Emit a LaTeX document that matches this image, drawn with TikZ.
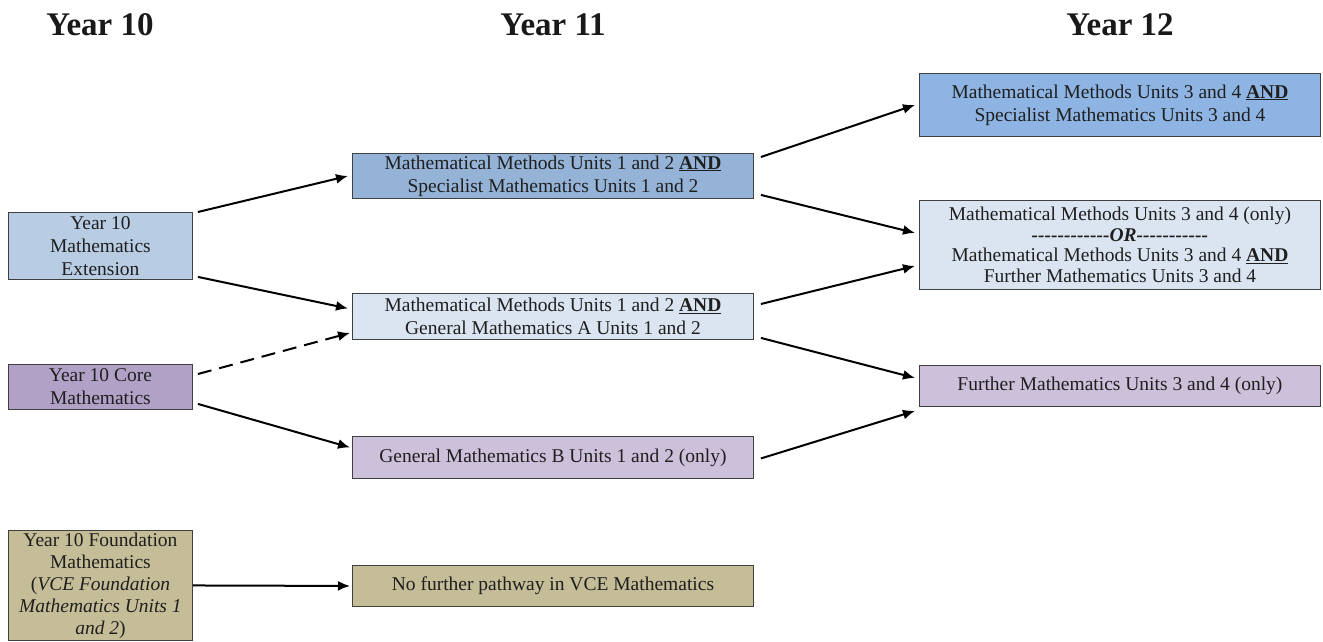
\documentclass[tikz,border=0pt]{standalone}
\usepackage{fontspec}
\setmainfont[Ligatures=TeXOff]{Liberation Serif}
\usetikzlibrary{arrows.meta}

\definecolor{extblue}{HTML}{B8CCE4}
\definecolor{coreviolet}{HTML}{B2A1C7}
\definecolor{foundkhaki}{HTML}{C4BD97}
\definecolor{midblue}{HTML}{95B3D7}
\definecolor{paleblue}{HTML}{DBE5F1}
\definecolor{palelilac}{HTML}{CCC0DA}
\definecolor{deepblue}{HTML}{8DB4E2}

\begin{document}
\begin{tikzpicture}[
    x=1pt, y=-1pt,
    heading/.style={font=\fontsize{33}{38}\selectfont\bfseries, text=black!90},
    course/.style={rectangle, draw=black!75, line width=0.9pt, anchor=north west, align=center,
      inner sep=0pt, text=black!88, font=\fontsize{19.5}{23}\selectfont},
    path/.style={line width=2pt, -{Latex[length=12pt,width=10pt]}},
    maybe/.style={path, dash pattern=on 14pt off 8pt}
  ]
    \useasboundingbox (0,0) rectangle (1323,641);

    % Headings
    \node[heading] (h10) at (100,25) {Year 10};
    \node[heading] (h11) at (553,25) {Year 11};
    \node[heading] (h12) at (1120,25) {Year 12};

    % Year 10
    \node[course, fill=extblue, minimum width=184pt, minimum height=67pt] (ext) at (8,212)
      {Year 10\\Mathematics\\Extension};
    \node[course, fill=coreviolet, minimum width=184pt, minimum height=45pt] (core) at (8,364)
      {Year 10 Core\\Mathematics};
    \node[course, fill=foundkhaki, minimum width=184pt, minimum height=110pt,
      font=\fontsize{19.5}{22}\selectfont] (found) at (8,530)
      {Year 10 Foundation\\Mathematics\\(\textit{VCE Foundation}\\\textit{Mathematics Units 1}\\\textit{and 2})};

    % Year 11
    \node[course, fill=midblue, minimum width=401pt, minimum height=45pt] (mmsm) at (352,153)
      {Mathematical Methods Units 1 and 2 \textbf{\underline{AND}}\\Specialist Mathematics Units 1 and 2};
    \node[course, fill=paleblue, minimum width=401pt, minimum height=46pt] (mmgma) at (352,293)
      {Mathematical Methods Units 1 and 2 \textbf{\underline{AND}}\\General Mathematics A Units 1 and 2};
    \node[course, fill=palelilac, minimum width=401pt, minimum height=42pt] (gmb) at (352,436)
      {General Mathematics B Units 1 and 2 (only)};
    \node[course, fill=foundkhaki, minimum width=401pt, minimum height=41pt] (nofurther) at (352,565)
      {No further pathway in VCE Mathematics};

    % Year 12
    \node[course, fill=deepblue, minimum width=401pt, minimum height=63pt] (mm34sm) at (919,73)
      {Mathematical Methods Units 3 and 4 \textbf{\underline{AND}}\\Specialist Mathematics Units 3 and 4};
    \node[course, fill=paleblue, minimum width=401pt, minimum height=89pt,
      font=\fontsize{19.5}{20.5}\selectfont] (mmor) at (919,200)
      {Mathematical Methods Units 3 and 4 (only)\\\textbf{\textit{------------OR-----------}}\\
       Mathematical Methods Units 3 and 4 \textbf{\underline{AND}}\\Further Mathematics Units 3 and 4};
    \node[course, fill=palelilac, minimum width=401pt, minimum height=41pt] (fm) at (919,365)
      {Further Mathematics Units 3 and 4 (only)};

    % Pathways
    \draw[path] ([shift={(5,0)}]ext.north east) -- ([shift={(-4,0)}]mmsm.west);
    \draw[path] ([shift={(5,-3)}]ext.south east) -- ([shift={(-4,-8)}]mmgma.west);
    \draw[maybe] ([shift={(5,10)}]core.north east) -- ([shift={(-2,-7)}]mmgma.south west);
    \draw[path] ([shift={(5,-6)}]core.south east) -- ([shift={(-2,-10)}]gmb.west);
    \draw[path, shorten >=2pt] (found.east) -- (nofurther.west);

    \draw[path] ([shift={(7,4)}]mmsm.north east) -- ([shift={(-4,0)}]mm34sm.west);
    \draw[path] ([shift={(7,-4)}]mmsm.south east) -- ([shift={(-4,-12)}]mmor.west);
    \draw[path] ([shift={(7,11)}]mmgma.north east) -- ([shift={(-4,21)}]mmor.west);
    \draw[path] ([shift={(7,-2)}]mmgma.south east) -- ([shift={(-4,-8)}]fm.west);
    \draw[path] ([shift={(7,1)}]gmb.east) -- ([shift={(-4,4)}]fm.south west);
  \end{tikzpicture}
\end{document}
